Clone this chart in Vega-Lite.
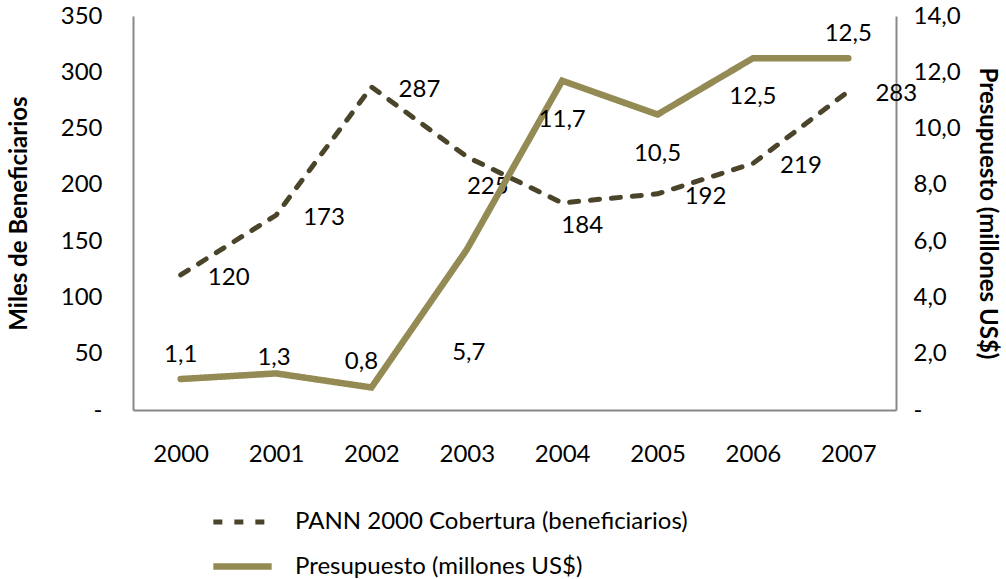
{
  "$schema": "https://vega.github.io/schema/vega-lite/v6.json",
  "width": 763,
  "height": 394,
  "autosize": {"type": "none"},
  "padding": {"left": 133, "top": 16, "right": 110, "bottom": 169},
  "background": "white",
  "config": {
    "font": "Lato",
    "view": {"stroke": null},
    "locale": {"number": {"decimal": ",", "thousands": ".", "grouping": [3], "currency": ["$", ""]}},
    "axis": {"labelFont": "Lato", "labelFontSize": 24, "labelColor": "#000000", "titleFont": "Lato", "titleFontSize": 24, "titleFontWeight": "bold", "titleColor": "#000000", "domainColor": "#888888", "domainWidth": 2, "ticks": false, "grid": false},
    "text": {"font": "Lato", "fontSize": 24, "color": "#000000"}
  },
  "data": {
    "values": [
      {"year": "2000", "series": "PANN 2000 Cobertura (beneficiarios)", "value": 120},
      {"year": "2001", "series": "PANN 2000 Cobertura (beneficiarios)", "value": 173},
      {"year": "2002", "series": "PANN 2000 Cobertura (beneficiarios)", "value": 287},
      {"year": "2003", "series": "PANN 2000 Cobertura (beneficiarios)", "value": 225},
      {"year": "2004", "series": "PANN 2000 Cobertura (beneficiarios)", "value": 184},
      {"year": "2005", "series": "PANN 2000 Cobertura (beneficiarios)", "value": 192},
      {"year": "2006", "series": "PANN 2000 Cobertura (beneficiarios)", "value": 219},
      {"year": "2007", "series": "PANN 2000 Cobertura (beneficiarios)", "value": 283},
      {"year": "2000", "series": "Presupuesto (millones US$)", "value": 1.1},
      {"year": "2001", "series": "Presupuesto (millones US$)", "value": 1.3},
      {"year": "2002", "series": "Presupuesto (millones US$)", "value": 0.8},
      {"year": "2003", "series": "Presupuesto (millones US$)", "value": 5.7},
      {"year": "2004", "series": "Presupuesto (millones US$)", "value": 11.7},
      {"year": "2005", "series": "Presupuesto (millones US$)", "value": 10.5},
      {"year": "2006", "series": "Presupuesto (millones US$)", "value": 12.5},
      {"year": "2007", "series": "Presupuesto (millones US$)", "value": 12.5}
    ]
  },
  "layer": [
    {
      "transform": [{"filter": "datum.series == 'PANN 2000 Cobertura (beneficiarios)'"}],
      "encoding": {
        "x": {"field": "year", "type": "ordinal", "scale": {"type": "point", "padding": 0.5}, "axis": {"title": null, "labelAngle": 0, "labelPadding": 32, "domainColor": "#888888"}},
        "y": {"field": "value", "type": "quantitative", "scale": {"domain": [0, 350], "nice": false}, "axis": {"orient": "left", "title": "Miles de Beneficiarios", "values": [0, 50, 100, 150, 200, 250, 300, 350], "labelPadding": 31, "titlePadding": 29, "labelExpr": "datum.value == 0 ? '-' : datum.label"}}
      },
      "layer": [
        {
          "mark": {"type": "line", "strokeCap": "round", "strokeJoin": "round"},
          "encoding": {
            "color": {
              "field": "series",
              "type": "nominal",
              "scale": {"domain": ["PANN 2000 Cobertura (beneficiarios)", "Presupuesto (millones US$)"], "range": ["#4A452A", "#948A54"]},
              "legend": {
                "title": null,
                "orient": "none",
                "legendX": 77,
                "legendY": 474,
                "direction": "vertical",
                "symbolType": "stroke",
                "symbolSize": 3400,
                "labelFont": "Lato",
                "labelFontSize": 24,
                "labelColor": "#000000",
                "labelOffset": 20,
                "rowPadding": -16,
                "labelLimit": 600,
                "encode": {
                  "symbols": {
                    "update": {
                      "strokeDash": [
                        {"test": "datum.value == 'PANN 2000 Cobertura (beneficiarios)'", "value": [14, 8]},
                        {"value": [1, 0]}
                      ]
                    }
                  }
                }
              }
            },
            "strokeDash": {"field": "series", "type": "nominal", "scale": {"domain": ["PANN 2000 Cobertura (beneficiarios)", "Presupuesto (millones US$)"], "range": [[9, 12], [1, 0]]}},
            "strokeWidth": {"field": "series", "type": "nominal", "scale": {"domain": ["PANN 2000 Cobertura (beneficiarios)", "Presupuesto (millones US$)"], "range": [5, 6.5]}}
          }
        },
        {
          "transform": [{"filter": "datum.year != '2003' && datum.year != '2004'"}],
          "mark": {"type": "text", "dx": 48, "dy": 3, "align": "center", "baseline": "middle"},
          "encoding": {"text": {"field": "value", "type": "quantitative", "format": "d"}}
        },
        {
          "transform": [{"filter": "datum.year == '2003'"}],
          "mark": {"type": "text", "dx": 21, "dy": 30, "align": "center", "baseline": "middle"},
          "encoding": {"text": {"field": "value", "type": "quantitative", "format": "d"}}
        },
        {
          "transform": [{"filter": "datum.year == '2004'"}],
          "mark": {"type": "text", "dx": 20, "dy": 23, "align": "center", "baseline": "middle"},
          "encoding": {"text": {"field": "value", "type": "quantitative", "format": "d"}}
        }
      ]
    },
    {
      "transform": [{"filter": "datum.series == 'Presupuesto (millones US$)'"}],
      "encoding": {
        "x": {"field": "year", "type": "ordinal", "scale": {"type": "point", "padding": 0.5}, "axis": {"title": null, "labelAngle": 0, "labelPadding": 32}},
        "y": {"field": "value", "type": "quantitative", "scale": {"domain": [0, 14], "nice": false}, "axis": {"orient": "right", "title": "Presupuesto (millones US$)", "values": [0, 2, 4, 6, 8, 10, 12, 14], "format": ".1f", "labelPadding": 17, "titlePadding": 14, "labelExpr": "datum.value == 0 ? '-' : datum.label"}}
      },
      "layer": [
        {
          "mark": {"type": "line", "strokeCap": "round", "strokeJoin": "miter"},
          "encoding": {
            "color": {"field": "series", "type": "nominal"},
            "strokeDash": {"field": "series", "type": "nominal"},
            "strokeWidth": {"field": "series", "type": "nominal"}
          }
        },
        {
          "transform": [{"filter": "datum.year == '2000' || datum.year == '2007'"}],
          "mark": {"type": "text", "dy": -24, "align": "center", "baseline": "middle"},
          "encoding": {"text": {"field": "value", "type": "quantitative", "format": ".1f"}}
        },
        {
          "transform": [{"filter": "datum.year == '2001'"}],
          "mark": {"type": "text", "dx": -2, "dy": -15, "align": "center", "baseline": "middle"},
          "encoding": {"text": {"field": "value", "type": "quantitative", "format": ".1f"}}
        },
        {
          "transform": [{"filter": "datum.year == '2002'"}],
          "mark": {"type": "text", "dx": -10, "dy": -25, "align": "center", "baseline": "middle"},
          "encoding": {"text": {"field": "value", "type": "quantitative", "format": ".1f"}}
        },
        {
          "transform": [{"filter": "datum.year == '2003'"}],
          "mark": {"type": "text", "dx": 2, "dy": 103, "align": "center", "baseline": "middle"},
          "encoding": {"text": {"field": "value", "type": "quantitative", "format": ".1f"}}
        },
        {
          "transform": [{"filter": "datum.year == '2004' || datum.year == '2005' || datum.year == '2006'"}],
          "mark": {"type": "text", "dy": 39, "align": "center", "baseline": "middle"},
          "encoding": {"text": {"field": "value", "type": "quantitative", "format": ".1f"}}
        }
      ]
    }
  ],
  "resolve": {"scale": {"y": "independent"}, "axis": {"y": "independent"}}
}
